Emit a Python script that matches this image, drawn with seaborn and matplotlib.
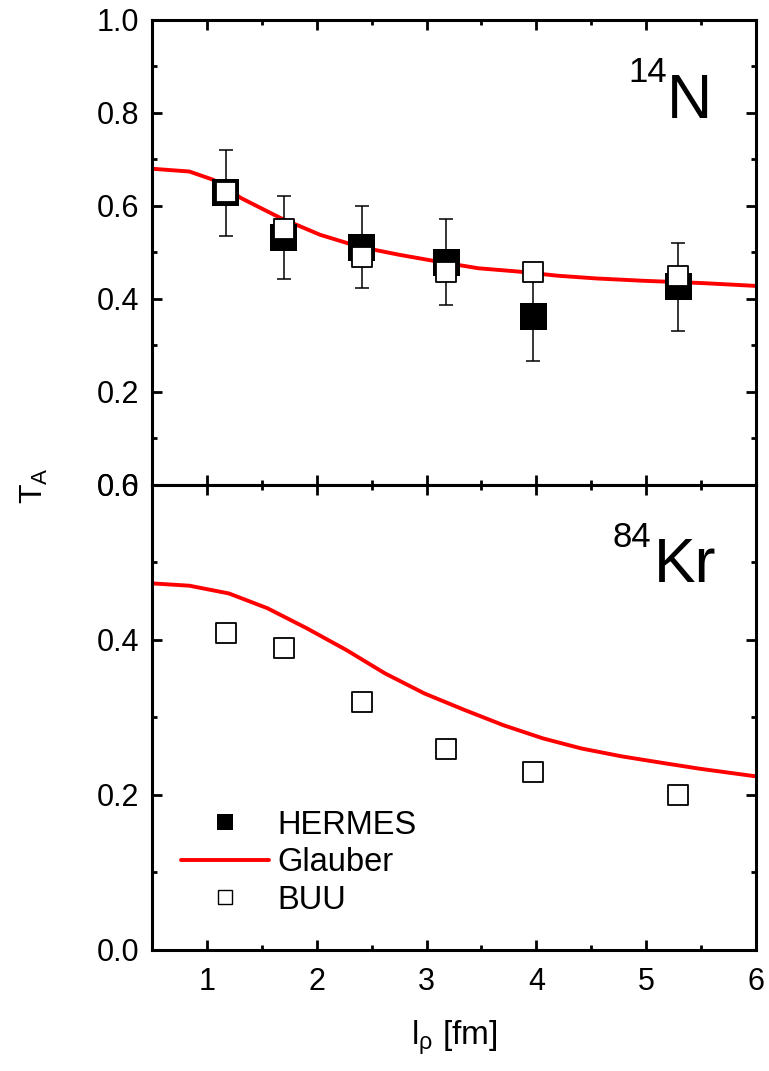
import numpy as np
import pandas as pd
import seaborn as sns
import matplotlib.pyplot as plt
from matplotlib.lines import Line2D
from matplotlib.ticker import MultipleLocator

# data
l_rho = [1.17, 1.70, 2.41, 3.18, 3.97, 5.29]

hermes_N = [0.628, 0.532, 0.511, 0.479, 0.363, 0.426]
hermes_N_err = [0.093, 0.090, 0.088, 0.093, 0.096, 0.095]
buu_N = [0.631, 0.550, 0.490, 0.458, 0.459, 0.450]
buu_Kr = [0.409, 0.390, 0.320, 0.259, 0.230, 0.200]

glauber_N_x = [0.50, 0.84, 1.06, 1.31, 1.67, 2.03, 2.39, 2.75, 3.11, 3.47, 3.83, 4.19, 4.55, 4.98, 5.52, 6.00]
glauber_N_y = [0.680, 0.674, 0.656, 0.617, 0.574, 0.538, 0.512, 0.495, 0.480, 0.466, 0.459, 0.450, 0.444, 0.439, 0.434, 0.428]

glauber_Kr_x = [0.50, 0.84, 1.20, 1.55, 1.91, 2.27, 2.62, 2.98, 3.34, 3.70, 4.06, 4.41, 4.77, 5.12, 5.48, 6.00]
glauber_Kr_y = [0.473, 0.470, 0.460, 0.441, 0.415, 0.387, 0.357, 0.331, 0.310, 0.290, 0.273, 0.260, 0.250, 0.242, 0.234, 0.224]

sns.set_style('ticks')
plt.rcParams['font.family'] = ['Liberation Sans', 'DejaVu Sans']
plt.rcParams['mathtext.fontset'] = 'custom'
plt.rcParams['mathtext.rm'] = 'Liberation Sans'
plt.rcParams['mathtext.it'] = 'Liberation Sans:italic'
plt.rcParams['mathtext.default'] = 'regular'
for key in ['text.color', 'axes.edgecolor', 'axes.labelcolor', 'xtick.color', 'ytick.color']:
    plt.rcParams[key] = 'black'

fig = plt.figure(figsize=(7.69, 10.71), dpi=100)
ax1 = fig.add_axes([0.1977, 0.5472, 0.7854, 0.4342])
ax2 = fig.add_axes([0.1977, 0.1130, 0.7854, 0.4342])

df_N = pd.DataFrame({'l': l_rho, 'hermes': hermes_N, 'err': hermes_N_err, 'buu': buu_N})
df_Kr = pd.DataFrame({'l': l_rho, 'buu': buu_Kr})

#### TOP PANEL: 14N ####
sns.lineplot(x=glauber_N_x, y=glauber_N_y, color='red', lw=2.8, legend=False, ax=ax1, zorder=2)
ax1.errorbar(df_N['l'], df_N['hermes'], yerr=df_N['err'], fmt='none', ecolor='black',
             elinewidth=1.1, capsize=4.7, capthick=1.1, zorder=3)
sns.scatterplot(data=df_N, x='l', y='hermes', marker='s', s=376, color='black',
                edgecolor='none', legend=False, ax=ax1, zorder=4)
sns.scatterplot(data=df_N, x='l', y='buu', marker='s', s=225, color='white',
                edgecolor='black', linewidth=1.3, legend=False, ax=ax1, zorder=5)

#### LOWER PANEL: 84Kr ####
sns.lineplot(x=glauber_Kr_x, y=glauber_Kr_y, color='red', lw=2.8, legend=False, ax=ax2, zorder=2)
sns.scatterplot(data=df_Kr, x='l', y='buu', marker='s', s=225, color='white',
                edgecolor='black', linewidth=1.3, legend=False, ax=ax2, zorder=5)

for ax, top in [(ax1, 1.0), (ax2, 0.6)]:
    ax.set_xlim(0.5, 6)
    ax.set_ylim(0, top)
    ax.xaxis.set_major_locator(MultipleLocator(1))
    ax.xaxis.set_minor_locator(MultipleLocator(0.5))
    ax.yaxis.set_major_locator(MultipleLocator(0.2))
    ax.yaxis.set_minor_locator(MultipleLocator(0.1))
    ax.tick_params(which='both', direction='in', top=True, right=True, width=2.0, color='black')
    ax.tick_params(which='major', length=7)
    ax.tick_params(which='minor', length=3.5)
    ax.tick_params(axis='y', labelsize=22, pad=9)
    ax.tick_params(axis='x', labelsize=22, pad=12)
    ax.yaxis.set_major_formatter(plt.FormatStrFormatter('%.1f'))
    for sp in ax.spines.values():
        sp.set_linewidth(2.2)
        sp.set_color('black')
    ax.set_xlabel('')
    ax.set_ylabel('')

ax1.tick_params(axis='x', labelbottom=False)
ax2.set_xlabel(r'l$_\rho$ [fm]', fontsize=24, labelpad=16)
fig.text(0.045, 0.547, r'T$_A$', fontsize=23, rotation=90, ha='center', va='center')

# nucleus labels
ax1.text(0.927, 0.789, 'N', fontsize=45, ha='right', va='baseline', transform=ax1.transAxes)
ax1.text(0.853, 0.867, '14', fontsize=25, ha='right', va='baseline', transform=ax1.transAxes)
ax2.text(0.935, 0.791, 'Kr', fontsize=45, ha='right', va='baseline', transform=ax2.transAxes)
ax2.text(0.826, 0.867, '84', fontsize=25, ha='right', va='baseline', transform=ax2.transAxes)

handles = [
    Line2D([], [], ls='none', marker='s', ms=11, mfc='black', mec='black', mew=0),
    Line2D([], [], color='red', lw=2.8),
    Line2D([], [], ls='none', marker='s', ms=9.5, mfc='white', mec='black', mew=1.0),
]
ax2.legend(handles, ['HERMES', 'Glauber', 'BUU'], loc='upper left', bbox_to_anchor=(0.048, 0.302),
           frameon=False, fontsize=23.5, handlelength=2.7, handletextpad=0.25,
           labelspacing=0.2, borderpad=0, borderaxespad=0)

plt.savefig('out.png', dpi=100)
